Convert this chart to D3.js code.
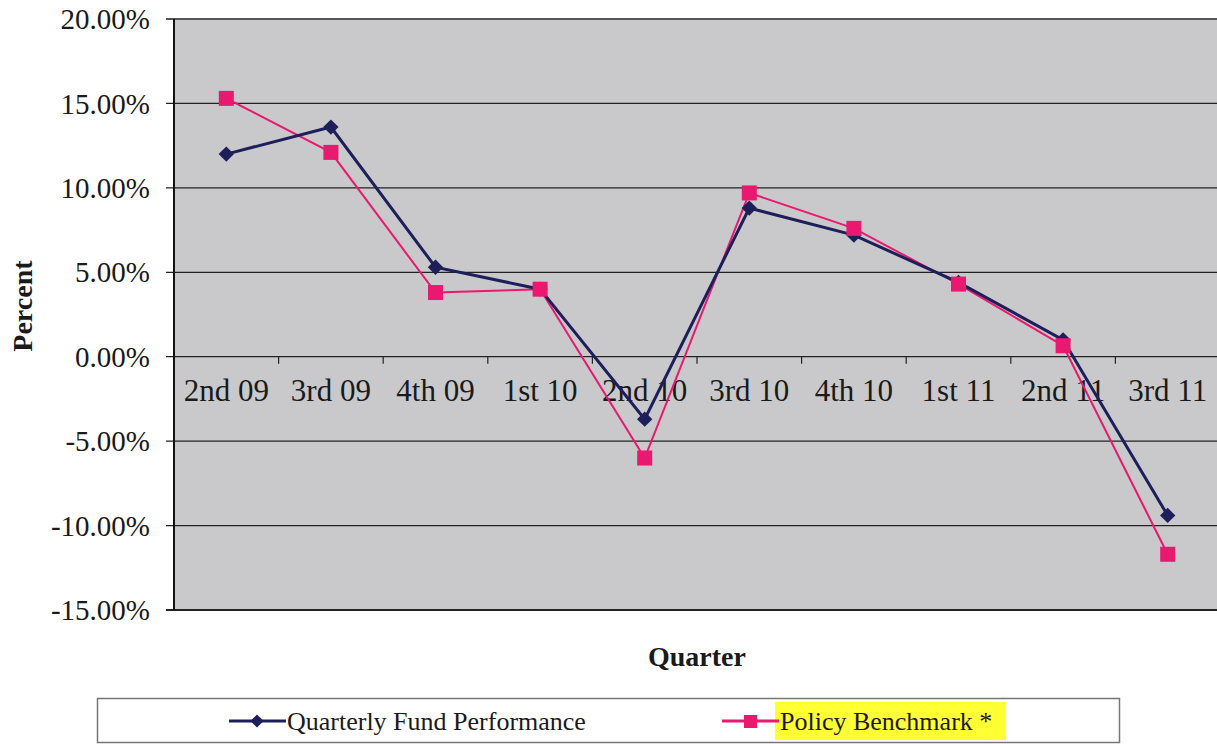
<!DOCTYPE html>
<html>
<head>
<meta charset="utf-8">
<script src="https://cdn.jsdelivr.net/npm/d3@7"></script>
<style>
  body { margin: 0; background: #fff; }
  svg { display: block; }
  text { font-family: "Liberation Serif", "Times New Roman", serif; fill: #1a1a1a; }
</style>
</head>
<body>
<div id="chart"></div>
<script>
var quarters = ["2nd 09", "3rd 09", "4th 09", "1st 10", "2nd 10", "3rd 10", "4th 10", "1st 11", "2nd 11", "3rd 11"];
var fundPerf = [12.0, 13.6, 5.3, 4.0, -3.7, 8.8, 7.2, 4.4, 1.0, -9.4];
var benchmark = [15.3, 12.1, 3.8, 4.0, -6.0, 9.7, 7.6, 4.3, 0.65, -11.7];
var yTicks = [20, 15, 10, 5, 0, -5, -10, -15];
var seriesNames = ["Quarterly Fund Performance", "Policy Benchmark *"];

var width = 1217, height = 744;
var margin = {top: 19, left: 174, bottom: 134, right: -3};
var g_width = width - margin.left - margin.right;
var g_height = height - margin.top - margin.bottom;

var navy = '#1e1f5a', pink = '#e8196f';

var svg = d3.select('#chart').append('svg')
  .attr('width', width)
  .attr('height', height);

var g = svg.append('g')
  .attr('transform', 'translate(' + margin.left + ',' + margin.top + ')');

var xScale = d3.scaleBand()
  .domain(quarters)
  .range([0, g_width])
  .padding(0);

var yScale = d3.scaleLinear()
  .domain([-15, 20])
  .range([g_height, 0]);

function cx(d, i) { return xScale(quarters[i]) + xScale.bandwidth() / 2; }

// plot background
g.append('rect')
  .attr('x', 0).attr('y', 0)
  .attr('width', g_width).attr('height', g_height)
  .attr('fill', '#c9c9cb');

// gridlines
g.selectAll('.grid')
  .data(yTicks)
  .enter().append('line')
  .attr('class', 'grid')
  .attr('x1', -8).attr('x2', g_width)
  .attr('y1', function (d) { return yScale(d); })
  .attr('y2', function (d) { return yScale(d); })
  .attr('stroke', function (d) { return d === 20 ? '#555' : '#222'; })
  .attr('stroke-width', function (d) { return d === 20 || d === -15 ? 2 : 1.2; });

// left axis line
g.append('line')
  .attr('x1', 0).attr('x2', 0)
  .attr('y1', 0).attr('y2', g_height)
  .attr('stroke', '#111').attr('stroke-width', 2);

// y labels
g.selectAll('.ylabel')
  .data(yTicks)
  .enter().append('text')
  .attr('class', 'ylabel')
  .attr('x', -24)
  .attr('y', function (d) { return yScale(d); })
  .attr('dy', '0.35em')
  .attr('text-anchor', 'end')
  .style('font-size', '29px')
  .text(function (d) { return d.toFixed(2) + '%'; });

// x ticks on the zero line
g.selectAll('.xtick')
  .data(quarters.slice(1))
  .enter().append('line')
  .attr('class', 'xtick')
  .attr('x1', function (d) { return xScale(d); })
  .attr('x2', function (d) { return xScale(d); })
  .attr('y1', yScale(0)).attr('y2', yScale(0) + 7)
  .attr('stroke', '#222').attr('stroke-width', 1.2);

g.selectAll('.xlabel')
  .data(quarters)
  .enter().append('text')
  .attr('class', 'xlabel')
  .attr('x', function (d) { return xScale(d) + xScale.bandwidth() / 2; })
  .attr('y', yScale(0) + 44)
  .attr('text-anchor', 'middle')
  .style('font-size', '31px')
  .text(function (d) { return d; });

// lines
var line = d3.line()
  .x(cx)
  .y(function (d) { return yScale(d); });

g.append('path')
  .datum(benchmark)
  .attr('d', line)
  .attr('fill', 'none')
  .attr('stroke', pink)
  .attr('stroke-width', 2);

g.append('path')
  .datum(fundPerf)
  .attr('d', line)
  .attr('fill', 'none')
  .attr('stroke', navy)
  .attr('stroke-width', 3);

g.selectAll('.diamond')
  .data(fundPerf)
  .enter().append('path')
  .attr('class', 'diamond')
  .attr('d', d3.symbol().type(d3.symbolDiamond2).size(150))
  .attr('transform', function (d, i) { return 'translate(' + cx(d, i) + ',' + yScale(d) + ')'; })
  .attr('fill', navy);

g.selectAll('.square')
  .data(benchmark)
  .enter().append('rect')
  .attr('class', 'square')
  .attr('x', function (d, i) { return cx(d, i) - 7.5; })
  .attr('y', function (d) { return yScale(d) - 7.5; })
  .attr('width', 15).attr('height', 15)
  .attr('fill', pink);

// axis titles
svg.append('text')
  .attr('transform', 'translate(32,' + (margin.top + yScale(3)) + ') rotate(-90)')
  .attr('text-anchor', 'middle')
  .style('font-size', '28px')
  .style('font-weight', 'bold')
  .text('Percent');

svg.append('text')
  .attr('x', 697).attr('y', 666)
  .attr('text-anchor', 'middle')
  .style('font-size', '28px')
  .style('font-weight', 'bold')
  .text('Quarter');

// legend
var legend = svg.append('g');
legend.append('rect')
  .attr('x', 97.5).attr('y', 698.5)
  .attr('width', 1022).attr('height', 44)
  .attr('fill', '#fff')
  .attr('stroke', '#777').attr('stroke-width', 1.5);

legend.append('rect')
  .attr('x', 775).attr('y', 702)
  .attr('width', 231).attr('height', 38)
  .attr('fill', '#ffff33');

var items = [
  {name: seriesNames[0], color: navy, x: 229, shape: 'diamond'},
  {name: seriesNames[1], color: pink, x: 722, shape: 'square'}
];

items.forEach(function (it) {
  legend.append('line')
    .attr('x1', it.x).attr('x2', it.x + 57)
    .attr('y1', 721).attr('y2', 721)
    .attr('stroke', it.color).attr('stroke-width', 3);
  if (it.shape === 'diamond') {
    legend.append('path')
      .attr('d', d3.symbol().type(d3.symbolDiamond2).size(110))
      .attr('transform', 'translate(' + (it.x + 28) + ',721)')
      .attr('fill', it.color);
  } else {
    legend.append('rect')
      .attr('x', it.x + 22).attr('y', 715)
      .attr('width', 13).attr('height', 13)
      .attr('fill', it.color);
  }
  legend.append('text')
    .attr('x', it.x + 58).attr('y', 730)
    .style('font-size', '26px')
    .text(it.name);
});
</script>
</body>
</html>
